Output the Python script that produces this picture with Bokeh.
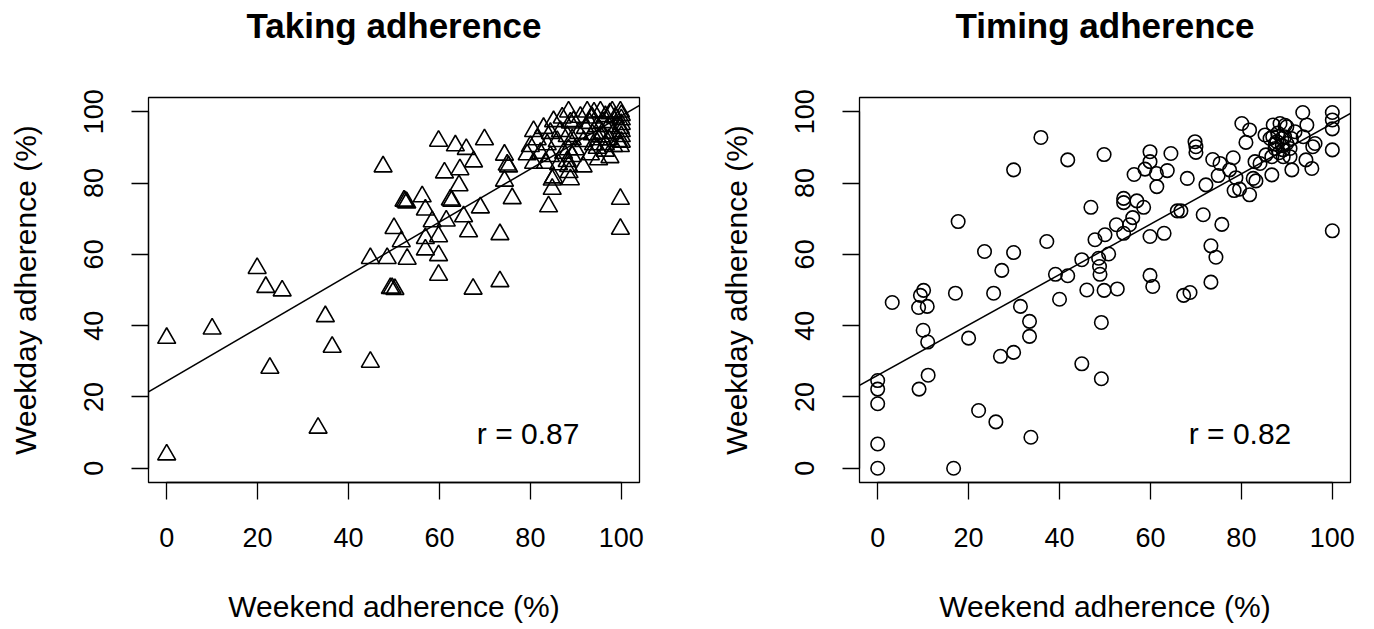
from bokeh.plotting import figure
from bokeh.layouts import row
from bokeh.models import Range1d, FixedTicker, Slope, Label, ColumnDataSource, Title
from bokeh.embed import file_html
from bokeh.resources import INLINE

# ---------------- data ----------------
tick_values = [0, 20, 40, 60, 80, 100]
titles = ["Taking adherence", "Timing adherence"]
x_label = "Weekend adherence (%)"
y_label = "Weekday adherence (%)"
r_labels = ["r = 0.87", "r = 0.82"]

taking_weekend = [
    0, 0, 10.0, 19.9, 21.8, 25.4, 22.7, 34.9, 36.4, 33.3, 44.8, 44.8, 47.6, 50.0, 48.5,
    49.2, 49.6, 50.2, 59.8, 63.5, 65.9, 69.9, 67.5, 61.1, 64.5, 64.3, 74.3, 74.9, 75.2,
    74.3, 76.0, 62.4, 62.7, 52.5, 52.8, 52.2, 56.2, 56.9, 69.0, 65.3, 58.4, 61.5, 51.6,
    56.9, 59.8, 56.9, 66.4, 73.3, 52.9, 59.8, 59.8, 67.4, 73.3, 84.0, 84.8, 85.1, 99.8,
    99.8, 91.6,
    88.4, 85.1, 87.0, 88.8, 82.9, 84.4, 80.7, 86.6, 88.1, 81.5, 80.0, 83.7, 85.9, 89.2,
    79.3, 82.2, 84.4, 87.3, 89.2, 80.7, 83.3, 86.2, 88.4, 84.8,
    92.5, 95.4, 98.0, 99.8, 89.5, 93.6, 96.5, 98.7, 100, 92.1, 94.7, 97.2, 99.8, 90.6,
    93.6, 95.8, 98.3, 100, 95.0, 97.2, 99.4, 91.7, 93.9, 96.5, 98.3, 99.8, 94.7, 88.4,
    89.9, 93.2, 88.1, 95.0, 88.8, 88.5, 100, 100, 100, 100, 96.0, 97.5, 94.0, 91.0,
    93.0, 95.5, 97.5, 96.5,
]
taking_weekday = [
    36.5, 3.8, 39.1, 56.1, 50.8, 49.8, 28.1, 42.6, 34.0, 11.3, 29.8, 58.9, 84.6, 67.3, 58.9,
    50.5, 50.5, 50.2, 91.8, 90.5, 89.5, 92.2, 86.0, 82.9, 83.8, 79.3, 87.9, 85.1, 84.6,
    80.6, 75.7, 75.3, 75.0, 74.8, 74.5, 75.0, 76.2, 72.5, 73.1, 70.6, 69.2, 69.4, 63.6,
    64.5, 65.0, 61.3, 66.4, 65.6, 58.7, 59.7, 54.2, 50.3, 52.4, 73.4, 78.3, 81.5, 75.5,
    67.1, 84.6,
    100, 97.3, 98.3, 96.9, 95.4, 94.0, 94.5, 94.5, 93.1, 92.2, 90.3, 90.8, 91.7, 92.2,
    88.0, 88.4, 87.5, 88.4, 87.5, 85.6, 85.6, 85.2, 84.7, 80.9,
    100, 100, 100, 100, 97.3, 98.3, 98.7, 98.3, 97.8, 95.4, 95.9, 95.9, 95.4, 94.0,
    93.6, 94.0, 94.0, 93.1, 92.2, 92.2, 91.7, 91.7, 90.8, 90.8, 90.3, 90.3, 89.8, 89.4,
    89.4, 88.0, 86.1, 86.6, 81.0, 83.0, 99.0, 96.5, 94.5, 91.5, 97.0, 99.5, 99.7, 98.5,
    96.8, 93.0, 87.2, 89.0,
]

timing_weekend = [
    0, 0, 0, 0, 0, 3.2, 10.1, 9.4, 9.0, 10.9, 10.0, 11.0, 11.1, 9.1, 16.7, 17.7, 17.1,
    20.0, 22.2, 26.0, 23.5, 29.9, 27.3, 25.5, 29.9, 35.9, 41.8, 46.9, 37.2, 27.0, 29.9,
    31.4, 33.4, 33.4, 33.7, 39.1, 41.8, 40.0, 44.9, 46.0, 44.9, 47.8, 49.2,
    49.8, 49.2, 49.8, 52.7, 48.9, 48.8, 48.6, 50.8, 50.0, 52.5, 54.1, 55.4, 56.1, 54.1,
    54.1, 57.0, 58.5, 59.9, 63.0, 59.9, 60.5, 67.3, 68.7, 73.3, 73.3, 74.4, 71.6, 75.7,
    65.9, 66.7, 56.4, 58.8, 59.9, 59.9, 61.3, 61.4, 63.7, 64.5, 68.1, 69.8, 70.0, 70.0,
    72.2, 73.7, 75.3, 74.9, 77.4, 78.2, 78.8, 78.4, 79.6, 81.8, 80.1, 81.8, 81.0, 83.0,
    84.1, 83.2, 86.7, 85.4, 85.2, 87.0, 88.5, 90.0, 86.9, 87.8, 88.9, 90.0, 87.4, 89.2,
    90.7, 91.8, 90.7, 89.2, 93.5, 94.4, 93.6, 94.2, 95.5, 91.1, 96.2, 95.7, 100, 100,
    100, 100, 100, 89.6, 86.3, 88.0, 89.5, 87.5, 89.0, 91.0, 88.3, 86.7, 82.6,
]
timing_weekday = [
    24.6, 22.2, 18.1, 6.8, 0, 46.5, 49.9, 48.5, 45.1, 45.4, 38.7, 35.4, 26.1, 22.2, 0, 69.2, 49.1,
    36.5, 16.2, 13.0, 60.8, 60.5, 55.5, 49.1, 83.7, 92.8, 86.5, 73.2, 63.6, 31.4, 32.5,
    45.4, 41.2, 37.0, 8.7, 54.4, 54.0, 47.4, 58.5, 50.0, 29.3, 64.1, 25.1,
    88.0, 40.9, 49.9, 50.3, 54.4, 56.6, 58.9, 60.1, 65.5, 68.3, 65.9, 68.3, 70.3, 75.7,
    74.5, 75.0, 73.2, 65.0, 65.9, 54.1, 51.0, 48.5, 49.3, 52.2, 62.4, 59.2, 71.1, 68.4,
    72.2, 72.2, 82.4, 83.9, 88.8, 86.0, 82.7, 79.0, 83.5, 88.3, 81.3, 91.6, 90.2, 88.6,
    79.5, 86.6, 85.5, 82.1, 83.7, 87.1, 81.5, 77.9, 78.3, 76.7, 96.7, 94.9, 91.4, 86.0,
    85.5, 80.6, 82.3, 87.9, 93.5, 96.3, 96.7, 95.8, 93.0, 91.6, 92.5, 91.1, 89.7, 89.3,
    89.7, 94.4, 87.4, 87.4, 99.8, 96.3, 93.0, 86.5, 84.1, 83.7, 91.1, 90.2, 99.8, 97.7,
    95.2, 89.3, 66.6, 96.2, 92.5, 94.0, 93.0, 91.0, 90.5, 92.5, 88.5, 87.4, 81.3,
]

# regression lines
fit_intercepts = [24.4, 26.1]
fit_slopes = [0.744, 0.706]
r_label_pos = [(79.5, 9.8), (79.7, 9.8)]

FONT = "Liberation Sans"


def make_fig(title, xs, ys, marker, size, intercept, slope, rtext, rpos,
             left_border, right_border):
    p = figure(frame_width=491, frame_height=385,
               x_range=Range1d(-4, 104), y_range=Range1d(-4, 104),
               output_backend="svg", toolbar_location=None,
               min_border_left=left_border, min_border_right=right_border,
               min_border_top=96, min_border_bottom=132, title=title)
    p.background_fill_color = "white"
    p.border_fill_color = "white"
    p.outline_line_color = "black"
    p.outline_line_width = 1.3
    p.outline_line_alpha = 1.0
    p.xgrid.grid_line_color = None
    p.ygrid.grid_line_color = None

    # invisible spacer between the frame and the title
    p.add_layout(Title(text=" ", text_font_size="2px", standoff=46), "above")

    p.title.text_font = FONT
    p.title.text_font_size = "35px"
    p.title.text_font_style = "bold"
    p.title.text_color = "black"
    p.title.align = "center"
    p.title.standoff = 6

    for ax in (p.xaxis[0], p.yaxis[0]):
        ax.ticker = FixedTicker(ticks=tick_values)
        ax.bounds = (0, 100)
        ax.axis_line_color = "black"
        ax.axis_line_width = 1.3
        ax.major_tick_line_color = "black"
        ax.major_tick_line_width = 1.3
        ax.major_tick_in = 0
        ax.major_tick_out = 17
        ax.minor_tick_line_color = None
        ax.major_label_text_font = FONT
        ax.major_label_text_font_size = "27px"
        ax.major_label_text_color = "black"
        ax.axis_label_text_font = FONT
        ax.axis_label_text_font_size = "30px"
        ax.axis_label_text_font_style = "normal"
        ax.axis_label_text_color = "black"

    p.xaxis.axis_label = x_label
    p.yaxis.axis_label = y_label
    p.xaxis.major_label_standoff = 28
    p.xaxis.axis_label_standoff = 40
    p.yaxis.major_label_orientation = "vertical"
    p.yaxis.major_label_standoff = 28
    p.yaxis.axis_label_standoff = 40

    src = ColumnDataSource(dict(x=xs, y=ys))
    p.scatter("x", "y", source=src, marker=marker, size=size,
              fill_color=None, line_color="black", line_width=1.6)

    p.add_layout(Slope(gradient=slope, y_intercept=intercept,
                       line_color="black", line_width=1.5))

    p.add_layout(Label(x=rpos[0], y=rpos[1], text=rtext, text_font=FONT,
                       text_font_size="30px", text_align="center",
                       text_baseline="middle", text_color="black"))
    return p


p1 = make_fig(titles[0], taking_weekend, taking_weekday, "triangle", 18,
              fit_intercepts[0], fit_slopes[0], r_labels[0], r_label_pos[0], 148, 49)
p2 = make_fig(titles[1], timing_weekend, timing_weekday, "circle", 13.5,
              fit_intercepts[1], fit_slopes[1], r_labels[1], r_label_pos[1], 171, 16)

layout = row(p1, p2)
open("out.html", "w").write(file_html(layout, INLINE))
